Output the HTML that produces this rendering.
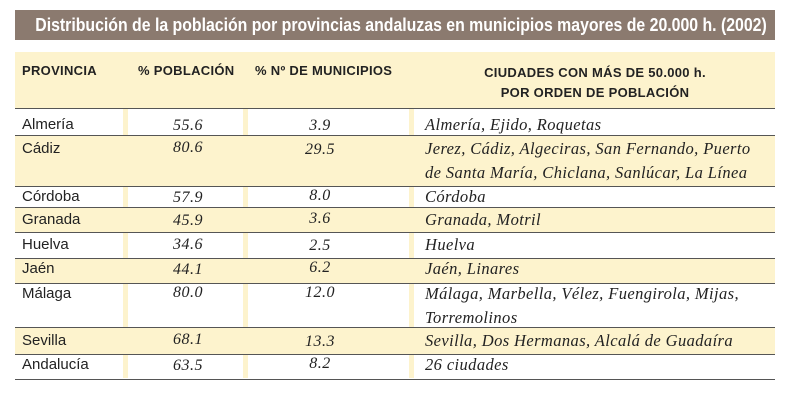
<!DOCTYPE html>
<html><head><meta charset="utf-8"><style>
body{margin:0;width:800px;height:400px;background:#fff;position:relative;overflow:hidden;font-family:"Liberation Sans",sans-serif}
.t{position:absolute;left:15px;top:10px;width:760px;height:30px;background:#8b7a6f;color:#fff;font:bold 18px "Liberation Sans",sans-serif;line-height:30px;white-space:nowrap}
.t span{position:absolute;left:386px;top:0;transform:translateX(-50%) scaleX(0.88);transform-origin:center}
.hd{position:absolute;left:15px;top:52px;width:760px;height:56px;background:#fdf3cd}
.h{position:absolute;font:bold 13px "Liberation Sans",sans-serif;color:#222;letter-spacing:.3px}
.r{position:absolute;left:15px;width:760px;border-top:1.5px solid #555}
.c{background:#fdf3cd}
.s{position:absolute;width:5px;background:#fdf3cd}
.p{position:absolute;left:22px;font-size:15px;color:#222}
.n{position:absolute;font:italic 16px "Liberation Serif",serif;color:#222;text-align:center;width:60px;letter-spacing:.5px}
.ci{position:absolute;left:425px;font:italic 16.5px "Liberation Serif",serif;color:#222;line-height:24px;letter-spacing:.4px;white-space:nowrap}
</style></head><body>
<div class="t"><span>Distribución de la población por provincias andaluzas en municipios mayores de 20.000 h. (2002)</span></div>
<div class="hd"></div>
<div class="h" style="left:22px;top:63px">PROVINCIA</div>
<div class="h" style="left:138px;top:63px">% POBLACIÓN</div>
<div class="h" style="left:255px;top:63px">% Nº DE MUNICIPIOS</div>
<div class="h" style="left:450px;top:63px;width:290px;text-align:center;line-height:20px">CIUDADES CON MÁS DE 50.000 h.<br>POR ORDEN DE POBLACIÓN</div>

<div class="s" style="left:123px;top:108px;height:270px"></div>
<div class="s" style="left:243px;top:108px;height:270px"></div>
<div class="s" style="left:409px;top:108px;height:270px"></div>

<div class="r" style="top:108px;height:27px"></div>
<div class="r c" style="top:135px;height:51px"></div>
<div class="r" style="top:186px;height:21px"></div>
<div class="r c" style="top:207px;height:25px"></div>
<div class="r" style="top:232px;height:26px"></div>
<div class="r c" style="top:258px;height:25px"></div>
<div class="r" style="top:283px;height:44px"></div>
<div class="r c" style="top:327px;height:27px"></div>
<div class="r" style="top:354px;height:24px;border-bottom:1.5px solid #555"></div>

<div class="p" style="top:116px">Almería</div><div class="n" style="left:158px;top:117px">55.6</div><div class="n" style="left:290px;top:117px">3.9</div><div class="ci" style="top:113px">Almería, Ejido, Roquetas</div>
<div class="p" style="top:140px">Cádiz</div><div class="n" style="left:158px;top:139px">80.6</div><div class="n" style="left:290px;top:141px">29.5</div><div class="ci" style="top:137px">Jerez, Cádiz, Algeciras, San Fernando, Puerto<br>de Santa María, Chiclana, Sanlúcar, La Línea</div>
<div class="p" style="top:188px">Córdoba</div><div class="n" style="left:158px;top:189px">57.9</div><div class="n" style="left:290px;top:187px">8.0</div><div class="ci" style="top:185px">Córdoba</div>
<div class="p" style="top:211px">Granada</div><div class="n" style="left:158px;top:212px">45.9</div><div class="n" style="left:290px;top:210px">3.6</div><div class="ci" style="top:208px">Granada, Motril</div>
<div class="p" style="top:236px">Huelva</div><div class="n" style="left:158px;top:236px">34.6</div><div class="n" style="left:290px;top:237px">2.5</div><div class="ci" style="top:233px">Huelva</div>
<div class="p" style="top:260px">Jaén</div><div class="n" style="left:158px;top:261px">44.1</div><div class="n" style="left:290px;top:259px">6.2</div><div class="ci" style="top:257px">Jaén, Linares</div>
<div class="p" style="top:285px">Málaga</div><div class="n" style="left:158px;top:284px">80.0</div><div class="n" style="left:290px;top:284px">12.0</div><div class="ci" style="top:282px">Málaga, Marbella, Vélez, Fuengirola, Mijas,<br>Torremolinos</div>
<div class="p" style="top:332px">Sevilla</div><div class="n" style="left:158px;top:331px">68.1</div><div class="n" style="left:290px;top:333px">13.3</div><div class="ci" style="top:329px">Sevilla, Dos Hermanas, Alcalá de Guadaíra</div>
<div class="p" style="top:356px">Andalucía</div><div class="n" style="left:158px;top:357px">63.5</div><div class="n" style="left:290px;top:355px">8.2</div><div class="ci" style="top:353px">26 ciudades</div>
</body></html>
